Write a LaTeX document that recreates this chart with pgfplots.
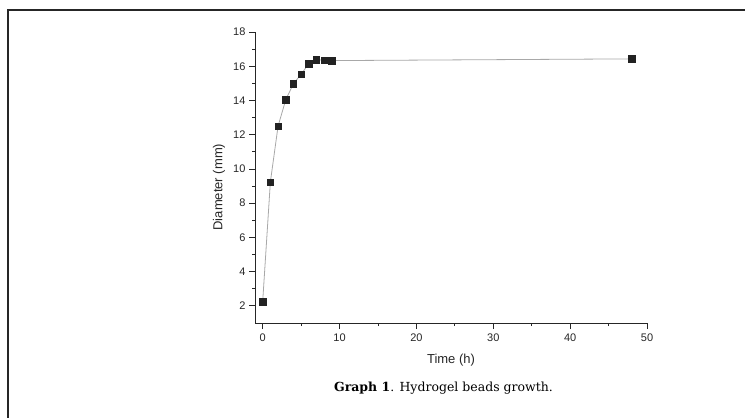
\documentclass[border=0pt]{standalone}
\usepackage{fontspec}
\setmainfont{Liberation Sans}
\newfontfamily\capfont{DejaVu Serif}
\usepackage{pgfplots}
\pgfplotsset{compat=1.18}

\definecolor{markcol}{HTML}{222222}
\definecolor{linecol}{HTML}{A8A8A8}

\begin{document}
\begin{tikzpicture}
\useasboundingbox (0,0) rectangle (745bp,-418bp);
% frame of the figure box
\draw[line width=2bp, black!85] (8bp,-420bp) -- (8bp,-10bp) -- (747bp,-10bp);

\begin{axis}[
    at={(255bp,-323bp)}, anchor=south west,
    scale only axis,
    width=392bp, height=291bp,
    xmin=-1, xmax=50,
    ymin=1, ymax=18,
    axis x line*=bottom,
    axis y line*=left,
    axis line style={line width=0.9bp, black!85},
    xtick={0,10,20,30,40,50},
    ytick={2,4,6,8,10,12,14,16,18},
    minor x tick num=1,
    minor y tick num=1,
    tick align=outside,
    major tick length=6bp,
    minor tick length=3bp,
    tick style={line width=0.8bp, black!85},
    /pgf/number format/assume math mode=true,
    ticklabel style={font=\fontsize{11bp}{13bp}\selectfont, text=black!85},
    xticklabel style={yshift=-1.5bp},
    label style={font=\fontsize{13bp}{15bp}\selectfont, text=black!85},
    xlabel={Time (h)},
    xlabel style={yshift=-5bp},
    ylabel={Diameter (mm)},
    ylabel style={at={(axis description cs:-0.092,0.467)}, anchor=center},
    clip=false,
]
\addplot[
    color=linecol, line width=0.8bp,
    mark=square*, mark size=3.2bp,
    mark options={fill=markcol, draw=markcol, line width=0.4bp},
] coordinates {
    (0, 2.25) (1, 9.24) (2, 12.5) (3, 14.04) (4, 14.98) (5, 15.53)
    (6, 16.15) (7, 16.39) (8, 16.35) (9, 16.33) (48, 16.43)
};
\end{axis}

\node[anchor=base, font=\fontsize{12.5bp}{15bp}\selectfont] at (443.5bp,-391bp)
    {\capfont\textbf{Graph 1}. Hydrogel beads growth.};
\end{tikzpicture}
\end{document}
